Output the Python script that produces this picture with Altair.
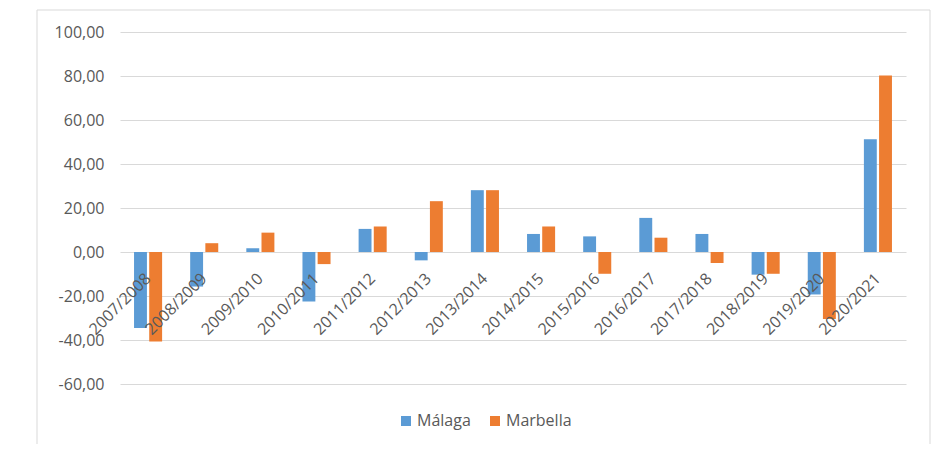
import altair as alt
import pandas as pd

seasons = ["2007/2008", "2008/2009", "2009/2010", "2010/2011", "2011/2012", "2012/2013",
           "2013/2014", "2014/2015", "2015/2016", "2016/2017", "2017/2018", "2018/2019",
           "2019/2020", "2020/2021"]
malaga = [-34.6, -15.7, 1.7, -22.5, 10.5, -3.8, 28.1, 8.2, 7.1, 15.5, 8.2, -10.3, -19.3, 51.2]
marbella = [-40.7, 4.0, 8.8, -5.5, 11.6, 23.1, 28.1, 11.6, -9.9, 6.5, -5.0, -9.9, -30.4, 80.2]
series = ["Málaga", "Marbella"]
colors = ["#5b9bd5", "#ed7d31"]

rows = []
for i, s in enumerate(seasons):
    rows.append({"season": s, "serie": series[0], "value": malaga[i]})
    rows.append({"season": s, "serie": series[1], "value": marbella[i]})
df = pd.DataFrame(rows)
lab = pd.DataFrame({"season": seasons})

FONT = "Open Sans"
GREY = "#595959"

xscale = alt.Scale(domain=seasons, paddingInner=0.5, paddingOuter=0.25)
yscale = alt.Scale(domain=[-60, 100], nice=False)

border = alt.Chart(lab).mark_rect(fillOpacity=0, stroke="#d9d9d9", strokeWidth=1).encode(
    x=alt.value(-83), x2=alt.value(810), y=alt.value(-22), y2=alt.value(440)
).transform_filter("datum.season == '2007/2008'")

bars = alt.Chart(df).mark_bar().encode(
    x=alt.X("season:N", scale=xscale, axis=None, sort=seasons),
    xOffset=alt.XOffset("serie:N", sort=series, scale=alt.Scale(paddingInner=0.15)),
    y=alt.Y("value:Q", scale=yscale,
            axis=alt.Axis(values=[-60, -40, -20, 0, 20, 40, 60, 80, 100], title=None,
                          domain=False, ticks=False, labelPadding=16,
                          labelExpr="replace(replace(format(datum.value, '.2f'), '.', ','), '\u2212', '-')",
                          labelFont=FONT, labelFontSize=16, labelColor=GREY,
                          gridColor="#d9d9d9", gridWidth=1)),
    color=alt.Color("serie:N", sort=series,
                    scale=alt.Scale(domain=series, range=colors),
                    legend=alt.Legend(title=None, orient="none", legendX=278, legendY=381,
                                      direction="horizontal", symbolType="square",
                                      symbolSize=100, symbolStrokeWidth=0,
                                      labelFont=FONT, labelFontSize=16, labelColor=GREY,
                                      columnPadding=16, labelOffset=3)),
)

labels = alt.Chart(lab).mark_text(angle=315, align="right", baseline="middle",
                                  font=FONT, fontSize=16, color=GREY).encode(
    x=alt.X("season:N", scale=xscale, sort=seasons),
    y=alt.datum(-11),
    text="season:N",
)

chart = alt.layer(border, bars, labels).properties(
    width=786, height=352,
    background="white",
    autosize=alt.AutoSizeParams(type="none"),
    padding={"left": 112, "top": 24, "right": 25, "bottom": 60},
).configure_view(stroke=None).configure_axis(domain=False, ticks=False)

chart.save("out.html", embed_options={"renderer": "svg", "actions": False})
